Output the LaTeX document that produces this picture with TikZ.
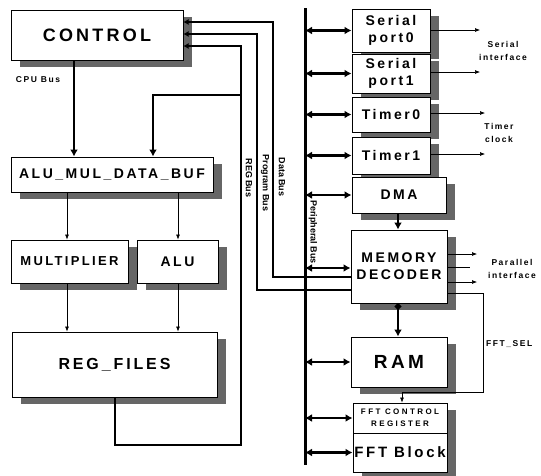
\documentclass[tikz,border=0pt]{standalone}
\usepackage{fontspec}
\setmainfont{Liberation Sans}
\newfontfamily\wspfont[LetterSpace=18]{Liberation Sans}
\newfontfamily\wspwide[LetterSpace=30]{Liberation Sans}
\usetikzlibrary{arrows.meta,shadows}
\begin{document}
\begin{tikzpicture}[x=1pt,y=-1pt,
  blk/.style={draw=black, line width=1pt, fill=white, inner sep=0pt, align=center,
    drop shadow={shadow xshift=9pt, shadow yshift=-7pt, fill=black!60, opacity=1}},
  fs/.style 2 args={font=\wspfont\bfseries\fontsize{#1}{#2}\selectfont},
  bus/.style={line width=2.8pt},
  thinarr/.style={line width=0.6pt, -{Latex[length=5pt,width=4pt]}},
  busarr/.style={line width=2.8pt, -{Latex[length=7pt,width=8pt]}},
  dbl/.style={line width=2.8pt, {Latex[length=7pt,width=8pt]}-{Latex[length=7pt,width=8pt]}},
  lab/.style={font=\wspfont\bfseries\fontsize{8.5}{13}\selectfont, align=center, inner sep=0pt},
  buslab/.style={font=\bfseries\fontsize{9}{10}\selectfont, inner sep=0pt, rotate=-90},
]
\useasboundingbox (0,0) rectangle (541,475);

% left blocks
\node[blk, fs={18}{21}, minimum width=172pt, minimum height=50pt] (control) at (97,35) {CONTROL};
\node[blk, fs={14}{17}, minimum width=202pt, minimum height=35pt] (buf) at (112,174.5) {ALU\_MUL\_DATA\_BUF};
\node[blk, fs={13}{15}, minimum width=117pt, minimum height=43pt] (mult) at (69.5,261.5) {MULTIPLIER};
\node[blk, fs={14}{16}, minimum width=81pt, minimum height=43pt] (alu) at (177.5,261.5) {ALU};
\node[blk, fs={16}{19}, minimum width=205pt, minimum height=65pt] (regf) at (114.5,364.5) {REG\_FILES};

% right blocks
\node[blk, fs={14}{17}, minimum width=78pt, minimum height=43pt] (sp0) at (391,30.5) {Serial\\port0};
\node[blk, fs={14}{17}, minimum width=78pt, minimum height=39pt] (sp1) at (391,73.5) {Serial\\port1};
\node[blk, fs={14}{17}, minimum width=78pt, minimum height=35pt] (t0) at (391,114.5) {Timer0};
\node[blk, fs={14}{17}, minimum width=78pt, minimum height=37pt] (t1) at (391,155.5) {Timer1};
\node[blk, fs={14}{17}, minimum width=94pt, minimum height=36pt] (dma) at (399,195) {DMA};
\node[blk, fs={14}{17}, minimum width=96pt, minimum height=73pt] (md) at (399,266.5) {MEMORY\\DECODER};
\node[blk, fs={19}{22}, minimum width=96pt, minimum height=50pt] (ram) at (399,362) {RAM};
\node[blk, font=\wspwide\bfseries\fontsize{8}{12}\selectfont, minimum width=94pt, minimum height=30pt] (fftcr) at (400,418) {FFT CONTROL\\REGISTER};
\node[blk, fs={15}{18}, minimum width=94pt, minimum height=39pt] (fftb) at (400,452.5) {FFT Block};

% coordinates
\coordinate (cpux) at (74,0);
\coordinate (d1) at (273,22);
\coordinate (d2) at (273,277);
\coordinate (p1) at (257,34);
\coordinate (p2) at (257,290);
\coordinate (r1) at (241,46);
\coordinate (r2) at (241,445);
\coordinate (r3) at (115,445);
\coordinate (b1) at (241,95);
\coordinate (b2) at (153,95);
\coordinate (pbtop) at (305,8);
\coordinate (pbbot) at (305,465);
\coordinate (x67) at (67,0);
\coordinate (x178) at (178,0);
\coordinate (mx) at (398,0);
\coordinate (y268) at (0,268);
\coordinate (f0) at (447,293);
\coordinate (f1) at (483,293);
\coordinate (f2) at (483,392);
\coordinate (f3) at (402,392);
\coordinate (s0e) at (480,30);
\coordinate (s1e) at (480,72);
\coordinate (t0e) at (485,113);
\coordinate (t1e) at (485,154);
\coordinate (pa1) at (477,254);
\coordinate (pa2) at (470,267);
\coordinate (pa3) at (477,282);

% CPU bus and branches
\draw[busarr] (control.south -| cpux) -- (buf.north -| cpux);
\draw[busarr] (b1) -- (b2) -- (buf.north -| b2);
\draw[thinarr] (buf.south -| x67) -- (mult.north -| x67);
\draw[thinarr] (buf.south -| x178) -- (alu.north -| x178);
\draw[thinarr] (mult.south -| x67) -- (regf.north -| x67);
\draw[thinarr] (alu.south -| x178) -- (regf.north -| x178);

% buses from CONTROL
\draw[bus, {Latex[length=5pt,width=6pt]}-] (control.east |- d1) -- (d1) -- (d2) -- (md.west |- d2);
\draw[bus, {Latex[length=5pt,width=6pt]}-] (control.east |- p1) -- (p1) -- (p2) -- (md.west |- p2);
\draw[bus, {Latex[length=5pt,width=6pt]}-] (control.east |- r1) -- (r1) -- (r2) -- (r3) -- (regf.south -| r3);

% peripheral bus
\draw[line width=3pt] (pbtop) -- (pbbot);
\draw[dbl] (pbtop |- sp0) -- (sp0.west);
\draw[dbl] (pbtop |- sp1) -- (sp1.west);
\draw[dbl] (pbtop |- t0) -- (t0.west);
\draw[dbl] (pbtop |- t1) -- (t1.west);
\draw[dbl] (pbtop |- dma) -- (dma.west);
\draw[dbl] (pbtop |- y268) -- (md.west |- y268);
\draw[dbl] (pbtop |- ram) -- (ram.west);
\draw[dbl] (pbtop |- fftcr) -- (fftcr.west);
\draw[dbl] (pbtop |- fftb) -- (fftb.west);

% memory-side
\draw[busarr] (dma.south -| mx) -- (md.north -| mx);
\draw[busarr, {Circle[length=6pt]}-{Latex[length=7pt,width=8pt]}] (md.south -| mx) -- (ram.north -| mx);
\draw[thinarr] (f0) -- (f1) -- (f2) -- (f3) -- (fftcr.north -| f3);

% outputs
\draw[thinarr] (sp0.east |- s0e) -- (s0e);
\draw[thinarr] (sp1.east |- s1e) -- (s1e);
\draw[thinarr] (t0.east |- t0e) -- (t0e);
\draw[thinarr] (t1.east |- t1e) -- (t1e);
\draw[thinarr] (md.east |- pa1) -- (pa1);
\draw[line width=0.6pt] (md.east |- pa2) -- (pa2);
\draw[thinarr] (md.east |- pa3) -- (pa3);

% labels
\node[lab] (cpul) at (38,80) {CPU Bus};
\node[lab] (serl) at (503,51) {Serial\\interface};
\node[lab] (timl) at (499,133) {Timer\\clock};
\node[lab] (parl) at (512,269) {Parallel\\interface};
\node[lab, anchor=west] (fsel) at (486,344) {FFT\_SEL};
\node[buslab] (regl) at (249,178) {REG Bus};
\node[buslab] (prgl) at (265,183) {Program Bus};
\node[buslab] (datl) at (282,177) {Data Bus};
\node[buslab] (perl) at (313,232) {Peripheral Bus};
\end{tikzpicture}
\end{document}
